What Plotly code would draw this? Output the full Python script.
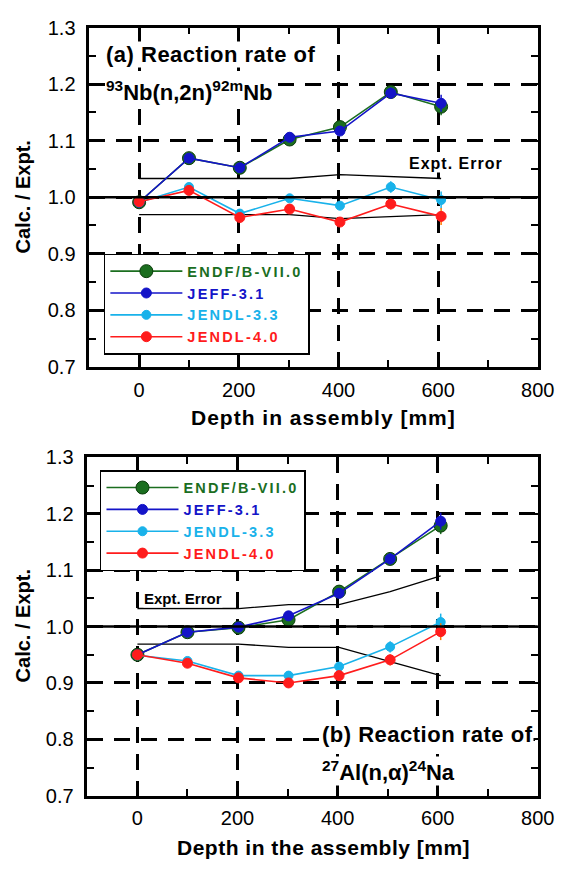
import plotly.graph_objects as go

# ---------------- data ----------------
depth = [0, 100, 202, 302, 403, 505, 606]

# (a) 93Nb(n,2n)92mNb
endf_a = [0.991, 1.069, 1.052, 1.102, 1.124, 1.186, 1.160]
jeff_a = [0.991, 1.069, 1.052, 1.106, 1.117, 1.184, 1.166]
jendl33_a = [0.991, 1.018, 0.971, 0.998, 0.985, 1.018, 0.995]
jendl40_a = [0.992, 1.012, 0.964, 0.979, 0.956, 0.988, 0.966]
expt_up_a = [1.033, 1.033, 1.033, 1.033, 1.040, 1.036, 1.033]
expt_lo_a = [0.969, 0.969, 0.969, 0.969, 0.962, 0.966, 0.969]

# (b) 27Al(n,a)24Na
endf_b = [0.950, 0.990, 0.998, 1.012, 1.062, 1.120, 1.179]
jeff_b = [0.950, 0.990, 0.999, 1.019, 1.059, 1.120, 1.187]
jendl33_b = [0.949, 0.939, 0.913, 0.913, 0.929, 0.964, 1.008]
jendl40_b = [0.950, 0.935, 0.909, 0.900, 0.913, 0.941, 0.991]
expt_up_b = [1.032, 1.032, 1.032, 1.039, 1.039, 1.062, 1.090]
expt_lo_b = [0.969, 0.969, 0.969, 0.963, 0.963, 0.938, 0.913]

stat_err = [0.003, 0.003, 0.004, 0.005, 0.006, 0.010, 0.015]

libs = ["ENDF/B-VII.0", "JEFF-3.1", "JENDL-3.3", "JENDL-4.0"]
colors = ["#1b6e1f", "#1414c8", "#19b2ea", "#ff1c1c"]
err_colors = ["#1b6e1f", "#1414c8", "#19b2ea", "#ff7a00"]
msizes = [13, 10, 9, 10]

x_ticks = [0, 200, 400, 600, 800]
y_ticks = [0.7, 0.8, 0.9, 1.0, 1.1, 1.2, 1.3]

# ---------------- figure ----------------
fig = go.Figure()
W, H = 581, 872

panels = [
    ("x", "y", "legend", [endf_a, jeff_a, jendl33_a, jendl40_a], expt_up_a, expt_lo_a),
    ("x2", "y2", "legend2", [endf_b, jeff_b, jendl33_b, jendl40_b], expt_up_b, expt_lo_b),
]

for xa, ya, leg, series, up, lo in panels:
    for yv in (up, lo):
        fig.add_trace(go.Scatter(x=depth, y=yv, mode="lines", xaxis=xa, yaxis=ya,
                                 line=dict(color="black", width=1.3),
                                 showlegend=False, hoverinfo="skip"))
    for name, col, ecol, ms, yv in zip(libs, colors, err_colors, msizes, series):
        fig.add_trace(go.Scatter(
            x=depth, y=yv, mode="lines+markers", xaxis=xa, yaxis=ya, legend=leg,
            name=f'<span style="color:{col};letter-spacing:2.2px">{name}</span>',
            line=dict(color=col, width=1.6),
            marker=dict(color=col, size=ms, line=dict(color="#0b3d0b" if ms > 12 else col, width=1)),
            error_y=dict(type="data", array=stat_err, color=ecol, thickness=1.5, width=0),
        ))

TICKFONT = dict(family="Liberation Sans", size=20, color="black")

def xaxis_cfg(domain, anchor):
    return dict(domain=domain, anchor=anchor, range=[-100, 800], tickvals=x_ticks, ticks="inside",
                ticklen=11, tickwidth=2, tickcolor="black", showline=True, linecolor="black",
                linewidth=2.5, mirror="allticks", showgrid=True, gridcolor="black", gridwidth=2.5,
                griddash="16px,11px", zeroline=False, tickfont=TICKFONT, ticklabelstandoff=3,
                minor=dict(dtick=100, tick0=0, ticks="inside", ticklen=7, tickwidth=2,
                           tickcolor="black", showgrid=False))

def yaxis_cfg(domain, anchor):
    return dict(domain=domain, anchor=anchor, range=[0.7, 1.3], tickvals=y_ticks, tickformat=".1f",
                ticks="inside", ticklen=11, tickwidth=2, tickcolor="black", showline=True,
                linecolor="black", linewidth=2.5, mirror="allticks", showgrid=True,
                gridcolor="black", gridwidth=2.5, griddash="16px,11px", zeroline=False,
                tickfont=TICKFONT, ticklabelstandoff=7,
                minor=dict(dtick=0.05, tick0=0.7, ticks="inside", ticklen=7, tickwidth=2,
                           tickcolor="black", showgrid=False))

legfont = dict(family="Liberation Sans", size=14.5, weight="bold", color="black")

fig.update_layout(
    width=W, height=H, margin=dict(l=0, r=0, t=0, b=0),
    paper_bgcolor="white", plot_bgcolor="white",
    xaxis=xaxis_cfg([92 / W, 554 / W], "y"),
    yaxis=yaxis_cfg([1 - 365 / H, 1 - 17 / H], "x"),
    xaxis2=xaxis_cfg([90 / W, 554 / W], "y2"),
    yaxis2=yaxis_cfg([1 - 805 / H, 1 - 458 / H], "x2"),
    legend=dict(x=107 / W, y=1 - 249 / H, xanchor="left", yanchor="top", bgcolor="white",
                bordercolor="black", borderwidth=1.5, font=legfont, tracegroupgap=0,
                itemwidth=72),
    legend2=dict(x=103 / W, y=1 - 471 / H, xanchor="left", yanchor="top", bgcolor="white",
                 bordercolor="black", borderwidth=1.5, font=legfont, tracegroupgap=0,
                 itemwidth=72),
    showlegend=True,
)

# reference line at 1.0
for xa, ya in (("x", "y"), ("x2", "y2")):
    fig.add_shape(type="line", xref=f"{xa} domain", yref=ya, x0=0, x1=1, y0=1.0, y1=1.0,
                  line=dict(color="black", width=2.5), layer="above")

BF = "Liberation Sans"
def ann(text, xref, yref, x, y, size, xanchor="left", angle=0, bg="white", ls=0):
    if ls:
        text = f'<span style="letter-spacing:{ls}px">{text}</span>'
    fig.add_annotation(text=text, xref=xref, yref=yref, x=x, y=y, xanchor=xanchor,
                       yanchor="middle", showarrow=False, textangle=angle, bgcolor=bg,
                       borderpad=0,
                       font=dict(family=BF, size=size, weight="bold", color="black"))

ann("(a) Reaction rate of", "x domain", "y domain", 0.035, 0.920, 22, ls=0.5)
ann("<sup>93</sup>Nb(n,2n)<sup>92m</sup>Nb", "x domain", "y domain", 0.035, 0.813, 22)
ann("Expt. Error", "x domain", "y domain", 0.71, 0.598, 16, ls=1)
ann("(b) Reaction rate of", "x2 domain", "y2 domain", 0.519, 0.182, 22, ls=0.5)
ann("<sup>27</sup>Al(n,α)<sup>24</sup>Na", "x2 domain", "y2 domain", 0.519, 0.072, 22)
ann("Expt. Error", "x2 domain", "y2 domain", 0.123, 0.582, 15)

# axis titles
ann("Depth in assembly [mm]", "paper", "paper", 333 / W, 1 - 417 / H, 21, xanchor="center", bg=None, ls=1)
ann("Depth in the assembly [mm]", "paper", "paper", 333 / W, 1 - 858 / H, 21, xanchor="center", bg=None, ls=0.5)
ann("Calc. / Expt.", "paper", "paper", 24 / W, 1 - 191 / H, 20, xanchor="center", angle=-90, bg=None)
ann("Calc. / Expt.", "paper", "paper", 24 / W, 1 - 631 / H, 20, xanchor="center", angle=-90, bg=None)

fig.write_html("out.html", config={"displayModeBar": False},
               post_script="document.body.style.margin='0px';")
